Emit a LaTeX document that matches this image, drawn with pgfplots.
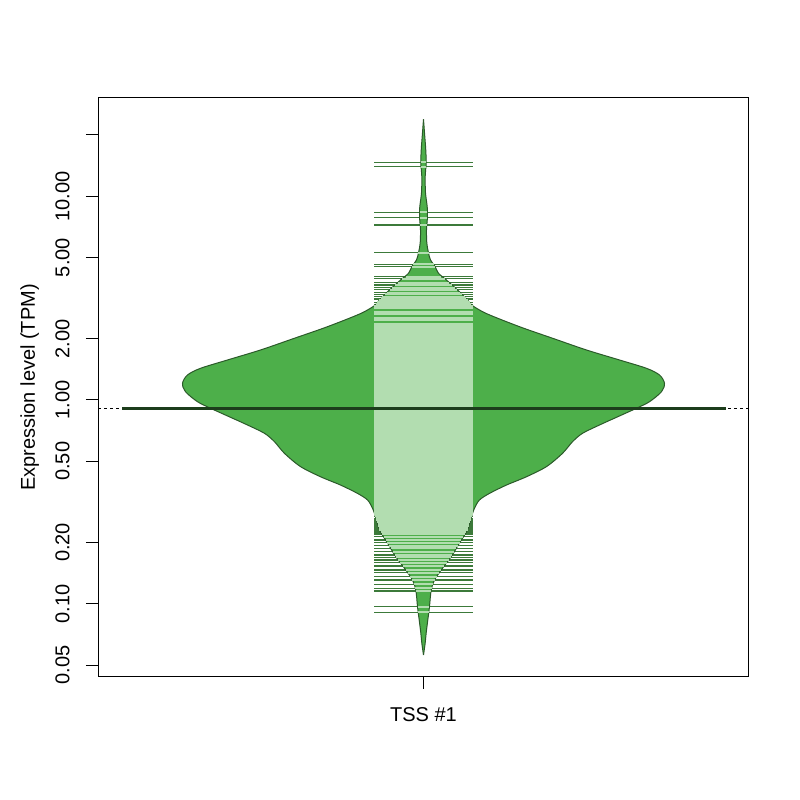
\documentclass[border=0pt]{standalone}
\usepackage{pgfplots}
\pgfplotsset{compat=1.18}
\usepackage{pgfplotstable}
\usepgfplotslibrary{fillbetween}
\usepackage{fontspec}
\setmainfont{Liberation Sans}

\definecolor{beanfill}{HTML}{4DAF4A}
\definecolor{beanborder}{HTML}{2B5A2A}
\definecolor{inline}{HTML}{B2DDB0}
\definecolor{outline}{HTML}{3C7A3A}
\definecolor{avgline}{HTML}{1D3D1C}

% bean outline: value, half width
\pgfplotstableread[row sep=\\]{
v w\\
23.88 0\\ 19.62 0.0020\\ 16.88 0.0035\\ 14.57 0.0041\\ 12.48 0.0026\\
10.38 0.0031\\ 8.89 0.0057\\ 7.94 0.0061\\ 6.83 0.0046\\ 5.90 0.0051\\
5.27 0.0077\\ 4.87 0.0108\\ 4.51 0.0180\\ 4.19 0.0230\\ 3.88 0.0353\\
3.47 0.0522\\ 3.10 0.0676\\ 2.93 0.0737\\ 2.66 0.0963\\ 2.29 0.1475\\
2.01 0.1982\\ 1.76 0.2504\\ 1.572 0.3011\\ 1.431 0.3425\\ 1.327 0.3625\\
1.208 0.3702\\ 1.098 0.3656\\ 0.981 0.3472\\ 0.911 0.3272\\ 0.835 0.3011\\
0.754 0.2704\\ 0.686 0.2442\\ 0.624 0.2289\\ 0.547 0.2135\\ 0.471 0.1889\\
0.420 0.1582\\ 0.3825 0.1275\\ 0.348 0.1014\\ 0.323 0.0860\\ 0.294 0.0783\\
0.2634 0.0730\\ 0.2300 0.0676\\ 0.1986 0.0553\\ 0.1701 0.0425\\ 0.1464 0.0272\\
0.1307 0.0169\\ 0.1168 0.0118\\ 0.0967 0.0092\\ 0.0832 0.0066\\ 0.0718 0.0041\\
0.0641 0.0026\\ 0.0560 0\\
}\beanshape

% bean lines: value, half length inside the bean
\pgfplotstableread[row sep=\\]{
v e\\
14.7 0.0041\\ 14.0 0.0038\\ 8.35 0.0058\\ 7.85 0.0061\\ 7.23 0.0054\\
5.29 0.0077\\ 4.64 0.0161\\ 4.51 0.0180\\ 4.03 0.0269\\ 3.93 0.0330\\
3.77 0.0399\\ 3.67 0.0438\\ 3.56 0.0484\\ 3.47 0.0522\\ 3.36 0.0568\\
3.30 0.0591\\ 3.21 0.0630\\ 3.16 0.0653\\ 3.10 0.0676\\ 3.02 0.0707\\
2.95 0.0730\\
2.893 0.0753\\ 2.828 0.0753\\ 2.704 0.0753\\ 2.643 0.0753\\ 2.527 0.0753\\
2.470 0.0753\\ 2.361 0.0753\\ 2.308 0.0753\\ 2.257 0.0753\\ 2.206 0.0753\\
2.157 0.0753\\ 2.109 0.0753\\ 2.062 0.0753\\ 2.016 0.0753\\ 1.971 0.0753\\
1.927 0.0753\\ 1.884 0.0753\\ 1.842 0.0753\\ 1.800 0.0753\\ 1.760 0.0753\\
1.721 0.0753\\ 1.682 0.0753\\ 1.644 0.0753\\ 1.608 0.0753\\ 1.572 0.0753\\
1.537 0.0753\\ 1.502 0.0753\\ 1.469 0.0753\\ 1.436 0.0753\\ 1.404 0.0753\\
1.372 0.0753\\ 1.342 0.0753\\ 1.312 0.0753\\ 1.282 0.0753\\ 1.254 0.0753\\
1.226 0.0753\\ 1.198 0.0753\\ 1.171 0.0753\\ 1.145 0.0753\\ 1.120 0.0753\\
1.095 0.0753\\ 1.070 0.0753\\ 1.046 0.0753\\ 1.023 0.0753\\ 1.000 0.0753\\
0.978 0.0753\\ 0.956 0.0753\\ 0.934 0.0753\\ 0.913 0.0753\\ 0.893 0.0753\\
0.873 0.0753\\ 0.854 0.0753\\ 0.835 0.0753\\ 0.816 0.0753\\ 0.798 0.0753\\
0.780 0.0753\\ 0.763 0.0753\\ 0.746 0.0753\\ 0.729 0.0753\\ 0.712 0.0753\\
0.696 0.0753\\ 0.681 0.0753\\ 0.666 0.0753\\ 0.651 0.0753\\ 0.636 0.0753\\
0.622 0.0753\\ 0.608 0.0753\\ 0.595 0.0753\\ 0.581 0.0753\\ 0.568 0.0753\\
0.556 0.0753\\ 0.543 0.0753\\ 0.531 0.0753\\ 0.519 0.0753\\ 0.507 0.0753\\
0.496 0.0753\\ 0.485 0.0753\\ 0.474 0.0753\\ 0.464 0.0753\\ 0.453 0.0753\\
0.443 0.0753\\ 0.433 0.0753\\ 0.424 0.0753\\ 0.414 0.0753\\ 0.405 0.0753\\
0.396 0.0753\\ 0.387 0.0753\\ 0.378 0.0753\\ 0.370 0.0753\\ 0.362 0.0753\\
0.354 0.0753\\ 0.346 0.0753\\ 0.338 0.0753\\ 0.330 0.0753\\ 0.323 0.0753\\
0.316 0.0753\\ 0.309 0.0753\\ 0.302 0.0753\\ 0.295 0.0753\\ 0.288 0.0753\\
0.282 0.0753\\ 0.276 0.0753\\ 0.269 0.0740\\ 0.263 0.0730\\ 0.2576 0.0722\\
0.2518 0.0711\\ 0.2462 0.0702\\ 0.2407 0.0693\\ 0.2353 0.0685\\ 0.2300 0.0676\\
0.2249 0.0657\\ 0.2199 0.0638\\ 0.2133 0.0613\\ 0.2055 0.0581\\ 0.1993 0.0556\\
0.1926 0.0528\\ 0.1871 0.0504\\ 0.1800 0.0472\\ 0.1734 0.0441\\ 0.1690 0.0419\\
0.1639 0.0387\\ 0.1589 0.0356\\ 0.1532 0.0318\\ 0.1464 0.0272\\ 0.1420 0.0244\\
0.1357 0.0203\\ 0.1307 0.0169\\ 0.1245 0.0147\\ 0.1190 0.0128\\ 0.1155 0.0117\\
0.0967 0.0092\\ 0.0908 0.0081\\
}\beanlines

\begin{document}
\begin{tikzpicture}[font=\fontsize{10}{12}\selectfont]
\path (0,0) rectangle (400pt,400pt);
\begin{axis}[
    at={(49pt,61.5pt)}, anchor=south west,
    scale only axis, width=325.5pt, height=289.5pt,
    xmin=0.5, xmax=1.5,
    ymode=log, ymin=0.04367, ymax=30.38,
    xtick={1}, xticklabels={TSS \#1},
    ytick={0.05,0.1,0.2,0.5,1,2,5,10,20},
    yticklabels={0.05,0.10,0.20,0.50,1.00,2.00,5.00,10.00,{}},
    yminorticks=false,
    xtick pos=left, ytick pos=left,
    tick align=outside, major tick length=6pt,
    axis line style={line width=0.5pt},
    tick style={black, line width=0.5pt},
    yticklabel style={rotate=90, anchor=south, inner sep=0pt},
    xticklabel style={anchor=north, inner sep=0pt},
    yticklabel shift=8pt, xticklabel shift=9pt,
    every axis y label/.style={at={(axis description cs:-0.0968,0.5)}, rotate=90, anchor=base},
    ylabel={Expression level (TPM)},
]
% overall average
\addplot[black, line width=0.4pt, dash pattern=on 1.5pt off 1.5pt] coordinates {(0.5,0.913) (1.5,0.913)};
% bean lines outside the bean
\addplot[draw=none, mark=none, forget plot, error bars/.cd, x dir=both, x explicit, error mark=none,
    error bar style={draw=outline, line width=0.55pt}]
    table[x expr=1, y=v, x error expr=0.0753] {\beanlines};
% bean
\addplot[draw=none, name path=R, smooth] table[x expr=1+\thisrow{w}, y=v] {\beanshape};
\addplot[draw=none, name path=L, smooth] table[x expr=1-\thisrow{w}, y=v] {\beanshape};
\addplot[beanfill] fill between[of=R and L];
\addplot[beanborder, line width=0.5pt, smooth] table[x expr=1+\thisrow{w}, y=v] {\beanshape};
\addplot[beanborder, line width=0.5pt, smooth] table[x expr=1-\thisrow{w}, y=v] {\beanshape};
% bean lines inside the bean
\addplot[draw=none, mark=none, forget plot, error bars/.cd, x dir=both, x explicit, error mark=none,
    error bar style={draw=inline, line width=1pt}]
    table[x expr=1, y=v, x error=e] {\beanlines};
% bean average
\addplot[avgline, line width=1.5pt] coordinates {(0.537,0.913) (1.465,0.913)};
\end{axis}
\end{tikzpicture}
\end{document}
